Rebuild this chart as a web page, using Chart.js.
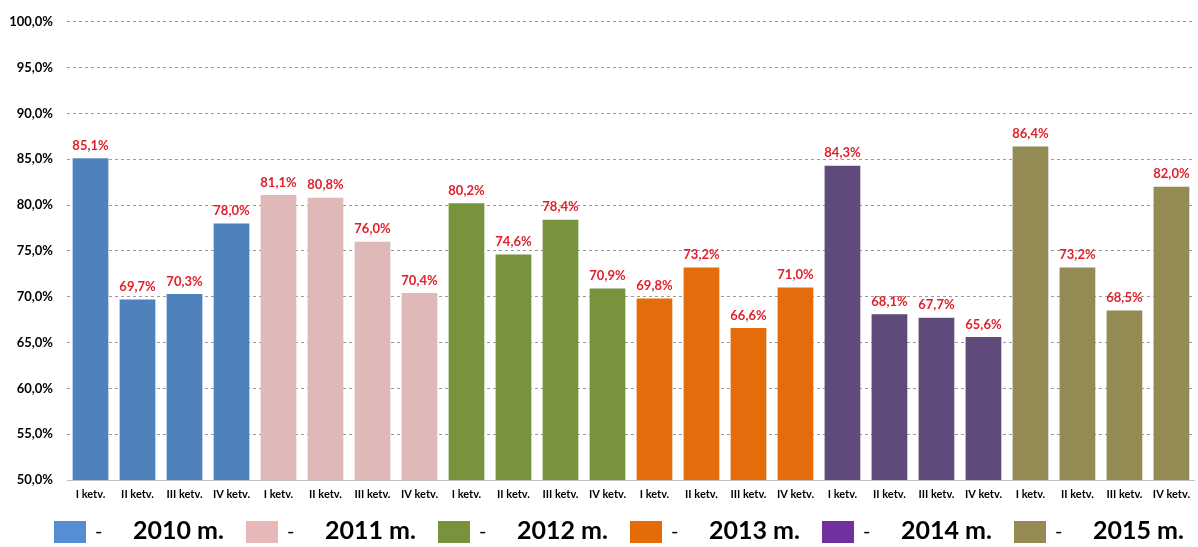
<!DOCTYPE html>
<html>
<head>
<meta charset="utf-8">
<script src="https://cdn.jsdelivr.net/npm/chart.js@4.4.1/dist/chart.umd.min.js"></script>
<style>
    body { margin: 0; background: #fff; font-family: Lato, 'Open Sans', sans-serif; }
    .wrap { position: relative; width: 1198px; height: 547px; }
    .legend { position: absolute; left: 54px; top: 521px; display: flex; }
    .legend-item { position: relative; width: 192px; height: 22px; }
    .legend-box { position: absolute; left: 0; top: 0; width: 32px; height: 22px; }
    .legend-dash { position: absolute; left: 41px; top: -3px; font-size: 20px; color: #000; }
    .legend-text { position: absolute; left: 79px; top: -7px; font-size: 25px; font-weight: bold; color: #000; white-space: nowrap; }
</style>
</head>
<body>
<div class="wrap">
    <canvas id="chart" width="1198" height="547"></canvas>
    <div class="legend" id="legend"></div>
</div>
<script>
// Quarter labels and values per year (%)
const quarters = ['I ketv.', 'II ketv.', 'III ketv.', 'IV ketv.'];
const years = ['2010 m.', '2011 m.', '2012 m.', '2013 m.', '2014 m.', '2015 m.'];
const v2010 = [85.1, 69.7, 70.3, 78.0];
const v2011 = [81.1, 80.8, 76.0, 70.4];
const v2012 = [80.2, 74.6, 78.4, 70.9];
const v2013 = [69.8, 73.2, 66.6, 71.0];
const v2014 = [84.3, 68.1, 67.7, 65.6];
const v2015 = [86.4, 73.2, 68.5, 82.0];
const yearValues = [v2010, v2011, v2012, v2013, v2014, v2015];

const barColors = ['#4F81BD', '#DFB8B8', '#77933C', '#E46C0A', '#604A7B', '#948A54'];
const legendColors = ['#558ED5', '#E6B9B8', '#77933C', '#E36C09', '#7030A0', '#948A54'];

const fmt = v => v.toFixed(1).replace('.', ',') + '%';

// Build 24-slot datasets, one per year
const labels = [];
years.forEach(() => quarters.forEach(q => labels.push(q)));
const datasets = yearValues.map((vals, i) => {
    const data = new Array(labels.length).fill(null);
    vals.forEach((v, j) => { data[i * quarters.length + j] = v; });
    return {
        label: years[i],
        data,
        backgroundColor: barColors[i],
        grouped: false,
        categoryPercentage: 1,
        barPercentage: 0.76
    };
});

// Red value labels above bars
const valueLabels = {
    id: 'valueLabels',
    afterDatasetsDraw(chart) {
        const ctx = chart.ctx;
        ctx.save();
        ctx.font = 'bold 13px Lato';
        ctx.fillStyle = '#E0202A';
        ctx.textAlign = 'center';
        ctx.textBaseline = 'bottom';
        chart.data.datasets.forEach((ds, i) => {
            chart.getDatasetMeta(i).data.forEach((bar, j) => {
                if (ds.data[j] == null) return;
                ctx.fillText(fmt(ds.data[j]), bar.x, bar.y - 6);
            });
        });
        ctx.restore();
    }
};

new Chart(document.getElementById('chart'), {
    type: 'bar',
    data: { labels, datasets },
    plugins: [valueLabels],
    options: {
        responsive: false,
        animation: false,
        layout: { padding: { top: 19, right: 0, bottom: 40, left: 0 } },
        plugins: { legend: { display: false }, tooltip: { enabled: false } },
        scales: {
            x: {
                afterFit: s => { s.height = 27; },
                grid: { display: false, drawTicks: false },
                border: { color: '#BFBFBF', width: 1 },
                ticks: {
                    autoSkip: false,
                    maxRotation: 0,
                    padding: 8,
                    color: '#000',
                    font: { family: 'Lato', size: 11, weight: 'bold' }
                }
            },
            y: {
                min: 50,
                max: 100,
                afterFit: s => { s.width = 67; },
                grid: { color: '#9A9A9A', drawTicks: false },
                border: { display: false, dash: [3, 3] },
                ticks: {
                    stepSize: 5,
                    padding: 14,
                    color: '#000',
                    font: { family: 'Lato', size: 13, weight: 'bold' },
                    callback: v => fmt(v)
                }
            }
        }
    }
});

// HTML legend
const legendEl = document.getElementById('legend');
years.forEach((y, i) => {
    const item = document.createElement('div');
    item.className = 'legend-item';
    item.innerHTML = `<div class="legend-box" style="background:${legendColors[i]}"></div>
        <span class="legend-dash">-</span>
        <span class="legend-text">${y}</span>`;
    legendEl.appendChild(item);
});
</script>
</body>
</html>
